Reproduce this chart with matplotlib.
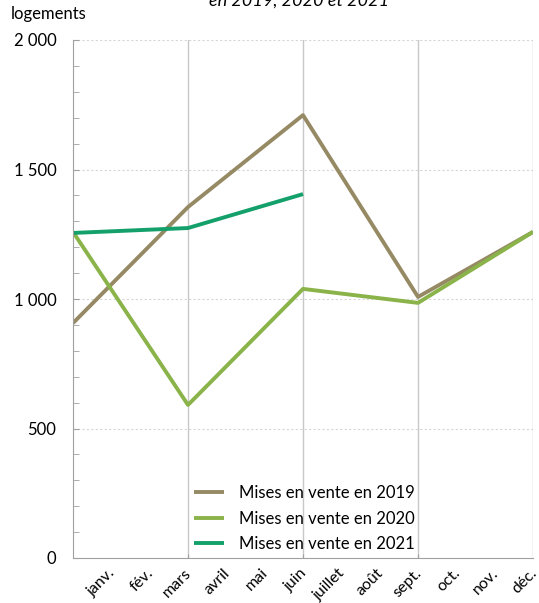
import numpy as np
import matplotlib.pyplot as plt
from matplotlib.ticker import MultipleLocator, FuncFormatter

plt.rcParams['font.family'] = ['Lato', 'DejaVu Sans']

# quarterly points: janv, mars, juin, sept, déc
points = [0, 1, 2, 3, 4]
ventes_2019 = [907, 1355, 1710, 1008, 1259]
ventes_2020 = [1259, 591, 1039, 985, 1259]
ventes_2021 = [1255, 1274, 1405]
mois = ['janv.', 'fév.', 'mars', 'avril', 'mai', 'juin', 'juillet', 'août',
        'sept.', 'oct.', 'nov.', 'déc.']

fig = plt.figure(figsize=(5.39, 6.03), dpi=100)
ax = fig.add_axes([73 / 539, 1 - 558 / 603, 460 / 539, 518 / 603])

ax.plot(points, ventes_2019, color='#958a64', lw=2.8, label='Mises en vente en 2019', solid_capstyle='butt')
ax.plot(points, ventes_2020, color='#8ab34a', lw=2.8, label='Mises en vente en 2020', solid_capstyle='butt')
ax.plot(points[:3], ventes_2021, color='#14a06a', lw=2.8, label='Mises en vente en 2021', solid_capstyle='butt')

ax.set_xlim(0, 4)
ax.set_ylim(0, 2000)

# grid
for y in [500, 1000, 1500, 2000]:
    ax.axhline(y, color='#d6d6d6', lw=0.8, ls=(0, (2, 2)), zorder=0)
for x in [1, 2, 3, 4]:
    ax.axvline(x, color='#c8c8c8', lw=1.0, zorder=0)

for s in ['top', 'right']:
    ax.spines[s].set_visible(False)
ax.spines['left'].set_color('#a0a0a0')
ax.spines['bottom'].set_color('#a0a0a0')

ax.yaxis.set_major_locator(MultipleLocator(500))
ax.yaxis.set_minor_locator(MultipleLocator(100))
ax.yaxis.set_major_formatter(FuncFormatter(lambda v, p: f'{int(v):,}'.replace(',', ' ')))
ax.tick_params(axis='y', which='both', direction='in', length=4, color='#a0a0a0', labelsize=12, pad=12)

ax.set_xticks([1, 2, 3])
ax.set_xticklabels([])
ax.tick_params(axis='x', direction='in', length=3, color='#a0a0a0')

# month labels spread over the axis
for i, m in enumerate(mois):
    ax.text((i + 1) / 3 - 0.03, -30, m, rotation=45, ha='right', va='top',
            fontsize=11.5, transform=ax.transData, rotation_mode='anchor')

ax.text(-0.135, 1.035, 'logements', transform=ax.transAxes, fontsize=12, ha='left', va='bottom')
fig.text(0.555, 1.012, 'en 2019, 2020 et 2021', fontsize=13, style='italic', ha='center', va='top')

ax.legend(loc='upper left', bbox_to_anchor=(0.23, 0.17), frameon=False, fontsize=12,
          handlelength=1.8, labelspacing=0.58, handletextpad=0.9)

fig.savefig('out.png', dpi=100)
